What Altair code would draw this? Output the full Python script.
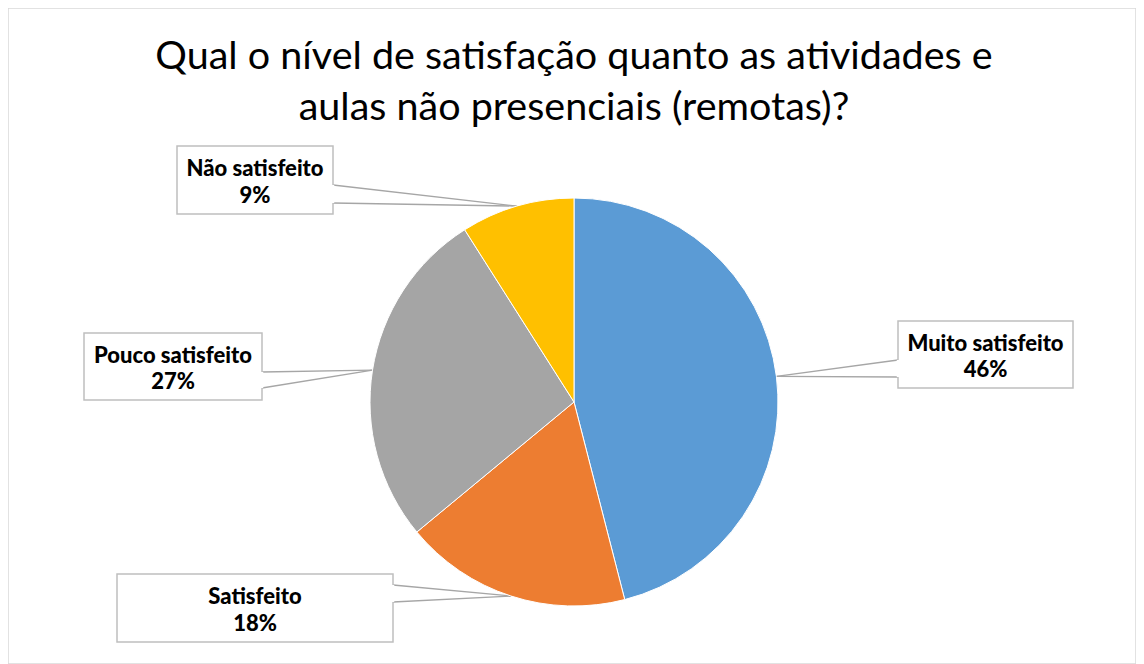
import math
import altair as alt
import pandas as pd

# ---- data ----
categories = ["Muito satisfeito", "Satisfeito", "Pouco satisfeito", "Não satisfeito"]
values = [46, 18, 27, 9]
colors = ["#5B9BD5", "#ED7D31", "#A5A5A5", "#FFC000"]
title_lines = ["Qual o nível de satisfação quanto as atividades e",
               "aulas não presenciais (remotas)?"]

# ---- layout (image pixel coordinates) ----
CX, CY, R = 574, 402, 204
box_x0 = [898, 117, 84, 177]
box_x1 = [1073, 393, 262, 333]
box_y0 = [321, 574, 333, 146]
box_y1 = [388, 642, 400, 214]
attach_x = [898, 393, 262, 333]
attach_ya = [360, 585, 372, 185]
attach_yb = [377, 602, 388, 203]
title_y = [69, 120]

FONT = "Lato"
W, H = 1128, 656
xs = alt.Scale(domain=[8, 8 + W], nice=False, zero=False)
ys = alt.Scale(domain=[8, 8 + H], nice=False, zero=False, reverse=True)

total = sum(values)
pcts = [f"{round(v * 100 / total)}%" for v in values]

# leader-line tips at slice mid-angles (clockwise from 12 o'clock)
tips = []
cum = 0
for v in values:
    mid = (cum + v / 2) / total * 2 * math.pi
    tips.append((CX + R * math.sin(mid), CY - R * math.cos(mid)))
    cum += v

pie_df = pd.DataFrame({"cat": categories, "value": values, "order": list(range(len(values)))})
pie = alt.Chart(pie_df).mark_arc(stroke="white", strokeWidth=1).encode(
    theta=alt.Theta("value:Q", stack=True),
    color=alt.Color("cat:N", scale=alt.Scale(domain=categories, range=colors), legend=None),
    order=alt.Order("order:Q"),
    x=alt.value(CX - 8), y=alt.value(CY - 8), radius=alt.value(R),
)

box_df = pd.DataFrame({"x0": box_x0, "x1": box_x1, "y0": box_y0, "y1": box_y1})
boxes = alt.Chart(box_df).mark_rect(fill="white", stroke="#BFBFBF", strokeWidth=1.5).encode(
    x=alt.X("x0:Q", scale=xs, axis=None), x2="x1:Q",
    y=alt.Y("y0:Q", scale=ys, axis=None), y2="y1:Q",
)

gap_df = pd.DataFrame({"x": attach_x, "ya": attach_ya, "yb": attach_yb})
gaps = alt.Chart(gap_df).mark_rule(color="white", strokeWidth=2.5).encode(
    x=alt.X("x:Q", scale=xs, axis=None),
    y=alt.Y("ya:Q", scale=ys, axis=None), y2="yb:Q",
)

seg_rows = []
for i in range(len(values)):
    tx, ty = tips[i]
    seg_rows.append({"x": attach_x[i], "y": attach_ya[i], "x2": tx, "y2": ty})
    seg_rows.append({"x": attach_x[i], "y": attach_yb[i], "x2": tx, "y2": ty})
seg_df = pd.DataFrame(seg_rows)
leaders = alt.Chart(seg_df).mark_rule(color="#A6A6A6", strokeWidth=1.3).encode(
    x=alt.X("x:Q", scale=xs, axis=None), x2="x2:Q",
    y=alt.Y("y:Q", scale=ys, axis=None), y2="y2:Q",
)

lab_rows = []
for i in range(len(values)):
    cx = (box_x0[i] + box_x1[i]) / 2
    cy = (box_y0[i] + box_y1[i]) / 2
    lab_rows.append({"t": categories[i], "x": cx, "y": cy - 4})
    lab_rows.append({"t": pcts[i], "x": cx, "y": cy + 22.5})
lab_df = pd.DataFrame(lab_rows)
labels = alt.Chart(lab_df).mark_text(
    font=FONT, fontSize=22, fontWeight=900, color="#000000",
    align="center", baseline="alphabetic",
).encode(
    x=alt.X("x:Q", scale=xs, axis=None),
    y=alt.Y("y:Q", scale=ys, axis=None),
    text="t:N",
)

title_df = pd.DataFrame({"t": title_lines, "x": [CX, CX], "y": title_y})
title = alt.Chart(title_df).mark_text(
    font=FONT, fontSize=39.5, color="#000000", align="center", baseline="alphabetic",
).encode(
    x=alt.X("x:Q", scale=xs, axis=None),
    y=alt.Y("y:Q", scale=ys, axis=None),
    text="t:N",
)

chart = alt.layer(leaders, boxes, gaps, pie, labels, title).properties(
    width=W, height=H, autosize="none", padding=0, background="white",
).configure_view(stroke="#D9D9D9", strokeWidth=1.5)

chart.save("out.html", embed_options={"renderer": "svg", "actions": False})
